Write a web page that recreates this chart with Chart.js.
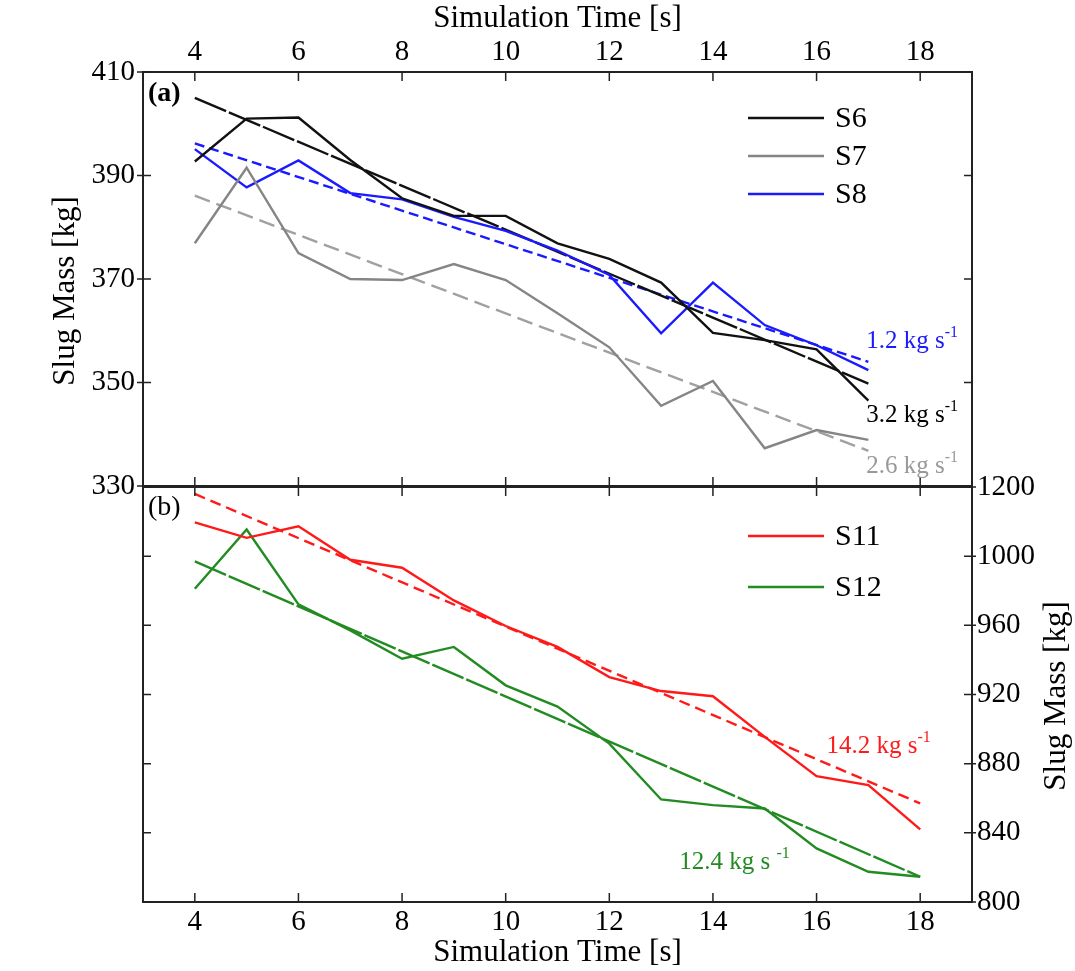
<!DOCTYPE html>
<html>
<head>
<meta charset="utf-8">
<script src="https://cdn.jsdelivr.net/npm/chart.js@4/dist/chart.umd.min.js"></script>
<style>
  html, body { margin: 0; padding: 0; background: #fff; }
  #wrap { position: relative; width: 1075px; height: 971px; }
  canvas { position: absolute; left: 0; top: 0; }
</style>
</head>
<body>
<div id="wrap">
  <canvas id="top" width="1075" height="971"></canvas>
  <canvas id="bot" width="1075" height="971"></canvas>
</div>
<script>
// ---------- data ----------
const xTickValues = [4, 6, 8, 10, 12, 14, 16, 18];
const timeA = [4, 5, 6, 7, 8, 9, 10, 11, 12, 13, 14, 15, 16, 17];
const s6 = [392.7, 401.0, 401.2, 393.0, 385.6, 382.2, 382.2, 376.9, 373.9, 369.3, 359.6, 358.2, 356.4, 346.5];
const s7 = [376.9, 391.5, 375.0, 370.0, 369.8, 372.9, 369.8, 363.4, 356.8, 345.5, 350.3, 337.3, 340.8, 338.9];
const s8 = [395.1, 387.7, 392.9, 386.6, 385.4, 382.0, 379.3, 375.5, 370.8, 359.5, 369.3, 361.1, 357.2, 352.4];
const fitTimeA = [4, 17];
const s6Fit = [405.0, 349.8];
const s7Fit = [386.1, 336.8];
const s8Fit = [396.2, 354.0];
const yTicksA = [330, 350, 370, 390, 410];

const timeB = [4, 5, 6, 7, 8, 9, 10, 11, 12, 13, 14, 15, 16, 17, 18];
const s11 = [1019.6, 1010.6, 1017.3, 997.9, 993.3, 974.4, 959.6, 947.5, 930.1, 922.0, 919.0, 895.5, 872.8, 867.6, 842.0];
const s12 = [981.2, 1015.4, 972.1, 957.1, 940.7, 947.5, 925.3, 913.0, 891.6, 859.3, 856.0, 854.1, 831.0, 817.5, 814.6];
const fitTimeB = [4, 18];
const s11Fit = [1036.0, 857.0];
const s12Fit = [997.0, 814.6];
const yTicksB = [800, 840, 880, 920, 960, 1000, 1040];
const yTickLabelsB = ['800', '840', '880', '920', '960', '1000', '1200'];

const xTitle = 'Simulation Time [s]';
const yTitle = 'Slug Mass [kg]';
const rateLabelsA = ['1.2 kg s', '3.2 kg s', '2.6 kg s'];
const rateLabelsB = ['14.2 kg s', '12.4 kg s '];
const rateSup = '-1';

// ---------- styling helpers ----------
const FONT = '"Liberation Serif", "Times New Roman", serif';
const C_BLACK = '#111111', C_GRAY = '#858585', C_GRAY_FIT = '#a0a0a0',
      C_BLUE = '#1a1aff', C_RED = '#ff1a1a', C_GREEN = '#228b22';

function pts(xs, ys) { return xs.map((x, i) => ({ x: x, y: ys[i] })); }
function line(label, xs, ys, color, dash, width) {
  return { label, data: pts(xs, ys), borderColor: color, backgroundColor: color,
           borderWidth: width || 2.4, borderDash: dash || [], pointRadius: 0, tension: 0, fill: false };
}

const framePlugin = {
  id: 'frame',
  afterDraw(chart, args, opts) {
    const ctx = chart.ctx, a = chart.chartArea;
    const xs = chart.scales.x, ys = chart.scales.y;
    ctx.save();
    ctx.strokeStyle = '#222';
    ctx.lineWidth = 2;
    ctx.strokeRect(a.left, a.top, a.right - a.left, a.bottom - a.top);
    ctx.lineWidth = 1.5;
    ctx.beginPath();
    xs.ticks.forEach(t => {
      const p = xs.getPixelForValue(t.value);
      ctx.moveTo(p, a.top); ctx.lineTo(p, a.top + 9);
      ctx.moveTo(p, a.bottom); ctx.lineTo(p, a.bottom - 9);
    });
    ys.ticks.forEach(t => {
      const p = ys.getPixelForValue(t.value);
      ctx.moveTo(a.left - opts.outL, p); ctx.lineTo(a.left + 8, p);
      ctx.moveTo(a.right + opts.outR, p); ctx.lineTo(a.right - 8, p);
    });
    ctx.stroke();

    // y-axis title (reads bottom to top)
    ctx.save();
    ctx.translate(opts.yTitleX, opts.yTitleY);
    ctx.rotate(-Math.PI / 2);
    ctx.fillStyle = '#000';
    ctx.font = '31px ' + FONT;
    ctx.textAlign = 'center';
    ctx.textBaseline = 'middle';
    ctx.fillText(yTitle, 0, 0);
    ctx.restore();

    // panel label
    ctx.fillStyle = '#000';
    ctx.font = (opts.bold ? 'bold ' : '') + '28px ' + FONT;
    ctx.textBaseline = 'middle';
    ctx.textAlign = 'left';
    ctx.fillText(opts.panel, a.left + 5, a.top + opts.panelDy);

    // legend
    const items = chart.data.datasets.filter(d => d.legend);
    items.forEach((d, i) => {
      const y = a.top + opts.legTop + i * opts.legStep;
      ctx.strokeStyle = d.borderColor;
      ctx.lineWidth = 2.4;
      ctx.setLineDash([]);
      ctx.beginPath();
      ctx.moveTo(a.left + 605, y); ctx.lineTo(a.left + 681, y);
      ctx.stroke();
      ctx.fillStyle = '#000';
      ctx.font = '30px ' + FONT;
      ctx.fillText(d.label, a.left + 692, y + 1);
    });

    // rate annotations
    (opts.rates || []).forEach(r => {
      const px = xs.getPixelForValue(r.x), py = ys.getPixelForValue(r.y);
      ctx.fillStyle = r.color;
      ctx.textBaseline = 'alphabetic';
      ctx.font = '25px ' + FONT;
      ctx.fillText(r.text, px, py);
      const w = ctx.measureText(r.text).width;
      ctx.font = '16px ' + FONT;
      ctx.fillText(rateSup, px + w, py - 11);
    });
    ctx.restore();
  }
};

const tickFont = { family: FONT, size: 29 };
const titleFont = { family: FONT, size: 31 };

// ---------- top panel (a) ----------
new Chart(document.getElementById('top'), {
  type: 'line',
  data: {
    datasets: [
      Object.assign(line('S6', timeA, s6, C_BLACK), { legend: true }),
      Object.assign(line('S7', timeA, s7, C_GRAY), { legend: true }),
      Object.assign(line('S8', timeA, s8, C_BLUE), { legend: true }),
      line('S6 fit', fitTimeA, s6Fit, C_BLACK, [34, 3]),
      line('S7 fit', fitTimeA, s7Fit, C_GRAY_FIT, [16, 7]),
      line('S8 fit', fitTimeA, s8Fit, C_BLUE, [10, 5])
    ]
  },
  options: {
    responsive: false, animation: false,
    layout: { padding: { left: 0, right: 103, top: 0, bottom: 485 } },
    plugins: {
      legend: { display: false }, tooltip: { enabled: false },
      frame: {
        panel: '(a)', bold: true, panelDy: 22, legTop: 46, legStep: 38,
        outL: 6, outR: 0, yTitleX: 66, yTitleY: 291,
        rates: [
          { x: 16.96, y: 356.7, text: rateLabelsA[0], color: C_BLUE },
          { x: 16.96, y: 342.4, text: rateLabelsA[1], color: '#000' },
          { x: 16.96, y: 332.5, text: rateLabelsA[2], color: '#999' }
        ]
      }
    },
    scales: {
      x: {
        type: 'linear', position: 'top', min: 3, max: 19,
        afterBuildTicks: s => { s.ticks = xTickValues.map(v => ({ value: v })); },
        afterFit: s => { s.height = 72; },
        grid: { display: false, drawTicks: false }, border: { display: false },
        ticks: { font: tickFont, color: '#000', padding: 2, maxRotation: 0 },
        title: { display: true, text: xTitle, font: titleFont, color: '#000', padding: { top: 0, bottom: 0 } }
      },
      y: {
        type: 'linear', position: 'left', min: 330, max: 410,
        afterBuildTicks: s => { s.ticks = yTicksA.map(v => ({ value: v })); },
        afterFit: s => { s.width = 143; },
        grid: { display: false, drawTicks: false }, border: { display: false },
        ticks: { font: tickFont, color: '#000', padding: 8 }
      }
    }
  },
  plugins: [framePlugin]
});

// ---------- bottom panel (b) ----------
new Chart(document.getElementById('bot'), {
  type: 'line',
  data: {
    datasets: [
      Object.assign(line('S11', timeB, s11, C_RED), { legend: true }),
      Object.assign(line('S12', timeB, s12, C_GREEN), { legend: true }),
      line('S11 fit', fitTimeB, s11Fit, C_RED, [11, 6]),
      line('S12 fit', fitTimeB, s12Fit, C_GREEN, [34, 3])
    ]
  },
  options: {
    responsive: false, animation: false,
    layout: { padding: { left: 143, right: 0, top: 487, bottom: 0 } },
    plugins: {
      legend: { display: false }, tooltip: { enabled: false },
      frame: {
        panel: '(b)', bold: false, panelDy: 21, legTop: 49, legStep: 51,
        outL: 0, outR: 4, yTitleX: 1057, yTitleY: 696,
        rates: [
          { x: 16.19, y: 886.1, text: rateLabelsB[0], color: C_RED },
          { x: 13.35, y: 819.1, text: rateLabelsB[1], color: C_GREEN }
        ]
      }
    },
    scales: {
      x: {
        type: 'linear', position: 'bottom', min: 3, max: 19,
        afterBuildTicks: s => { s.ticks = xTickValues.map(v => ({ value: v })); },
        afterFit: s => { s.height = 69; },
        grid: { display: false, drawTicks: false }, border: { display: false },
        ticks: { font: tickFont, color: '#000', padding: 3, maxRotation: 0 },
        title: { display: true, text: xTitle, font: titleFont, color: '#000', padding: { top: 0, bottom: 0 } }
      },
      y: {
        type: 'linear', position: 'right', min: 800, max: 1040,
        afterBuildTicks: s => { s.ticks = yTicksB.map(v => ({ value: v })); },
        afterFit: s => { s.width = 103; },
        grid: { display: false, drawTicks: false }, border: { display: false },
        ticks: { font: tickFont, color: '#000', padding: 5,
                 callback: (v, i) => yTickLabelsB[i] }
      }
    }
  },
  plugins: [framePlugin]
});
</script>
</body>
</html>
